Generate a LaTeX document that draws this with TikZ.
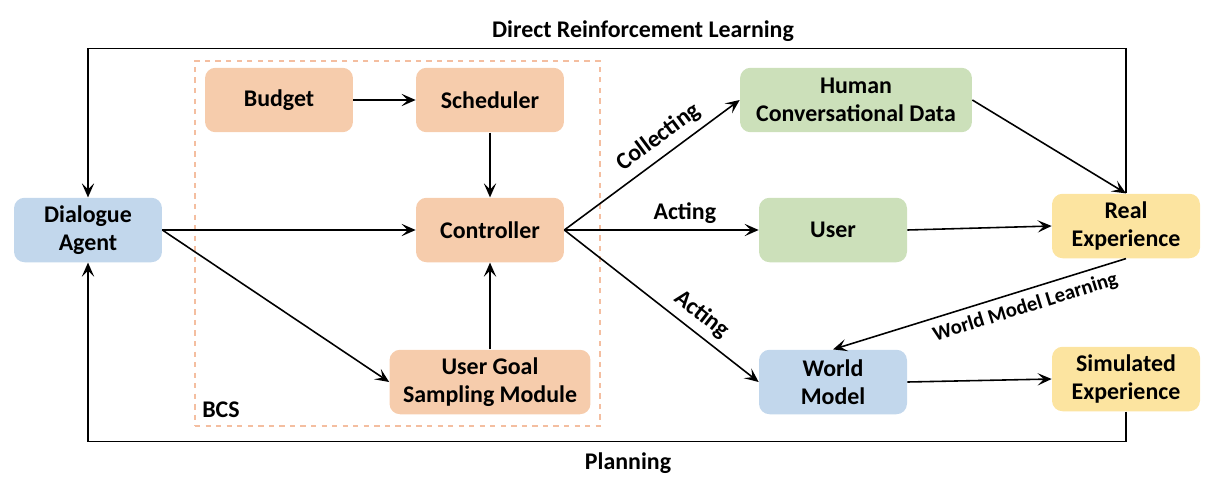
\documentclass[tikz,border=0pt]{standalone}
\usepackage{fontspec}
\setmainfont{Carlito}
\usepackage{tikz}
\usetikzlibrary{arrows.meta}
\definecolor{bcsorange}{RGB}{246,204,172}
\definecolor{dashorange}{RGB}{244,190,160}
\definecolor{agentblue}{RGB}{194,215,236}
\definecolor{usergreen}{RGB}{204,224,186}
\definecolor{expyellow}{RGB}{252,228,160}
\tikzset{>={Stealth[length=8pt,width=7pt,inset=3.5pt]}}
\tikzstyle{box} = [rectangle, rounded corners=6pt, align=center, inner sep=0pt, minimum width=2.96cm, minimum height=1.29cm, font=\bfseries\fontsize{13.6}{16}\selectfont]
\tikzstyle{lbl} = [font=\bfseries\fontsize{13.6}{16}\selectfont]
\tikzstyle{flow} = [->, line width=0.9pt]

\begin{document}
\begin{tikzpicture}[x=0.02cm, y=-0.02cm]
\useasboundingbox (0,0) rectangle (1212,484);
\node [rectangle, draw=dashorange, dashed, line width=0.8pt, minimum width=8.1cm, minimum height=7.3cm] (bcs) at (397.5,243.5) {};
\node [lbl] (bcslabel) at (221,410) {BCS};
\node [box, fill=agentblue] (agent) at (88,230) {Dialogue\\Agent};
\node [box, fill=bcsorange] (budget) at (279,100) {Budget};
\node [box, fill=bcsorange] (sched) at (490,100) {Scheduler};
\node [box, fill=bcsorange] (ctrl) at (490,230) {Controller};
\node [box, fill=bcsorange, minimum width=4.02cm] (goal) at (490,382) {User Goal\\Sampling Module};
\node [box, fill=usergreen, minimum width=4.64cm] (human) at (856,100) {Human\\Conversational Data};
\node [box, fill=usergreen] (user) at (833,230) {User};
\node [box, fill=agentblue] (world) at (833,382) {World\\Model};
\node [box, fill=expyellow] (real) at (1126,226) {Real\\Experience};
\node [box, fill=expyellow] (sim) at (1126,379) {Simulated\\Experience};
\node [lbl] (drl) at (643,31) {Direct Reinforcement Learning};
\node [lbl] (plan) at (628,463) {Planning};
% inside BCS
\draw [flow] (budget) to (sched);
\draw [flow] (sched) to (ctrl);
\draw [flow] (goal) to (ctrl);
\draw [flow] (agent.east) to (ctrl.west);
\draw [flow] (agent.east) to (goal.west);
% controller outputs
\draw [flow] (ctrl.east) to node [lbl, sloped, above, pos=0.6, inner sep=4pt] (lcollect) {Collecting} (human.west);
\draw [flow] (ctrl.east) to node [lbl, above, pos=0.62] (lact) {Acting} (user.west);
\draw [flow] (ctrl.east) to node [lbl, sloped, above, pos=0.65, inner sep=4pt] (lact2) {Acting} (world.west);
% experience
\draw [flow] (human.east) to (real.north);
\draw [flow] (user.east) to (real.west);
\draw [flow] (world.east) to (sim.west);
\draw [flow] (real.south) to node [sloped, below, pos=0.36, inner sep=4pt, font=\bfseries\fontsize{11.8}{14}\selectfont] (lwml) {World Model Learning} (world.north);
% loops back to agent
\draw [flow] (real.north) -- ++(0,-145) -| (agent.north);
\draw [flow] (sim.south) -- ++(0,30) -| (agent.south);
\end{tikzpicture}
\end{document}
